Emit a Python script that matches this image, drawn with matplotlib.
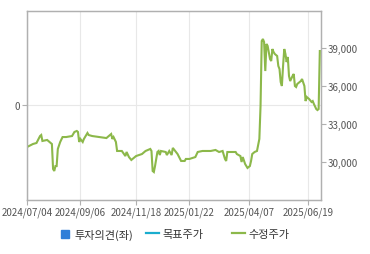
import matplotlib.pyplot as plt
from matplotlib.lines import Line2D

plt.rcParams['font.family'] = ['Noto Sans CJK KR', 'DejaVu Sans']

# trading-day index and adjusted price (수정주가)
days = [0, 5, 8, 11, 12, 13, 17, 19, 21, 22, 23, 24, 25, 26, 28, 30, 33, 38, 40, 42,
        43, 44, 45, 47, 48, 51, 52, 55, 61, 67, 71, 72, 73, 75, 76, 80, 83, 84, 86, 88,
        92, 97, 100, 104, 105, 106, 107, 108, 110, 111, 112, 113, 117, 118, 120, 122, 123, 125, 127, 130,
        133, 134, 137, 142, 144, 148, 155, 159, 162, 165, 167, 168, 169, 172, 176, 177, 180, 181, 182, 184,
        186, 188, 189, 190, 192, 194, 196, 197, 198, 199, 200, 201, 202, 203, 205, 206, 207, 208, 209, 211,
        212, 213, 214, 215, 216, 217, 218, 219, 220, 221, 222, 224, 225, 226, 227, 228, 231, 232, 234, 235,
        236, 238, 240, 241, 242, 244, 245, 246, 247]
prices = [31180, 31420, 31500, 32050, 32130, 31660, 31740, 31580, 31420, 29450, 29290, 29680, 29680, 31030, 31580, 31970, 31970, 32050, 32370, 32450,
          32370, 31580, 31820, 31580, 31820, 32290, 32130, 32050, 31970, 31890, 32210, 31820, 31970, 31580, 30870, 30870, 30470, 30790, 30390, 30160,
          30470, 30630, 30870, 31030, 30870, 29290, 29210, 29680, 30790, 30870, 30550, 30870, 30790, 30550, 30870, 30550, 31110, 30870, 30630, 30080,
          30080, 30240, 30240, 30390, 30790, 30870, 30870, 30950, 30790, 30870, 30240, 30080, 30790, 30790, 30790, 30630, 30470, 30000, 30390, 29840,
          29530, 29680, 30080, 30630, 30790, 30870, 31820, 34420, 39550, 39710, 39470, 37180, 39320, 39160, 38130, 37970, 38920, 38680, 38530, 38370,
          37580, 37340, 36310, 36000, 37580, 38920, 38530, 37890, 38290, 36790, 36390, 36790, 36950, 36000, 35920, 36160, 36390, 36550, 36000, 34810,
          35130, 34970, 34740, 34810, 34580, 34180, 34100, 34180, 38760]

tick_days = [0, 45, 92, 137, 187, 237]
tick_labels = ['2024/07/04', '2024/09/06', '2024/11/18', '2025/01/22', '2025/04/07', '2025/06/19']
right_ticks = [30000, 33000, 36000, 39000]

fig = plt.figure(figsize=(3.7, 2.55), dpi=100)
ax = fig.add_axes([27 / 370, 54 / 255, 294 / 370, 189 / 255])
ax2 = ax.twinx()

ax2.plot(days, prices, color='#8cb84a', lw=1.5, solid_joinstyle='miter')
ax2.set_ylim(27000, 41920)
ax2.set_yticks(right_ticks)
ax2.set_yticklabels([f'{v:,}' for v in right_ticks])

ax.set_xlim(0, 248)
ax.set_ylim(-1, 0.99)
ax.set_yticks([0])
ax.set_yticklabels(['0'])
ax.set_xticks(tick_days)
ax.set_xticklabels(tick_labels)
ax.grid(True, color='#e8e8e8', lw=0.8)
ax.set_axisbelow(True)

for a in (ax, ax2):
    for s in a.spines.values():
        s.set_color('#b0b0b0')
        s.set_linewidth(0.9)
    a.tick_params(colors='#b0b0b0', labelcolor='#555555', labelsize=7, length=3.5, width=0.8, pad=1.5)
ax2.tick_params(axis='y', pad=1)

legend_items = [
    (Line2D([], [], marker='s', ls='none', markersize=6, color='#2f7ed8'), '투자의견(좌)', 58),
    (Line2D([], [], color='#1aadce', lw=1.6), '목표주가', 146),
    (Line2D([], [], color='#8cb84a', lw=1.6), '수정주가', 232),
]
for h, lab, xpx in legend_items:
    fig.legend([h], [lab], loc='center left', bbox_to_anchor=(xpx / 370, 0.078), frameon=False,
               fontsize=8, labelcolor='#333333', handlelength=1.2, handletextpad=0.3, borderpad=0,
               borderaxespad=0)

fig.savefig('out.png', dpi=100)
